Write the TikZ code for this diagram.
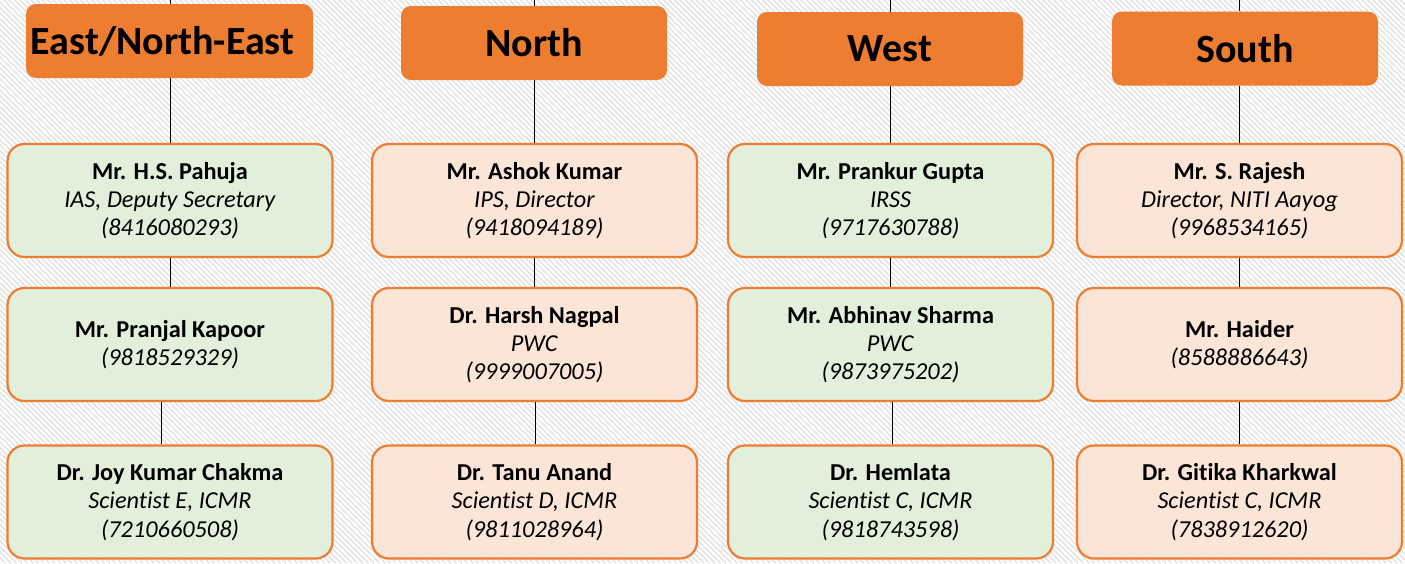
\documentclass[tikz,border=0pt]{standalone}
\usepackage{fontspec}
\setmainfont[Ligatures=NoCommon]{Carlito}
\definecolor{hdr}{HTML}{ED7D31}
\definecolor{gfill}{HTML}{E2EFDA}
\definecolor{pfill}{HTML}{FBE5D6}
\definecolor{hatchc}{HTML}{DFDFDF}
\tikzset{
  head/.style={fill=hdr, rounded corners=10pt, minimum height=74pt, inner sep=0pt,
    font=\fontsize{40}{46}\selectfont\bfseries},
  person/.style={draw=hdr, line width=2.2pt, rounded corners=17pt, minimum width=325pt,
    minimum height=113pt, align=center, inner sep=0pt, font=\fontsize{24.3}{28.2}\selectfont},
  gbox/.style={person, fill=gfill},
  pbox/.style={person, fill=pfill},
  link/.style={draw=black, line width=0.8pt},
  hatch/.style={draw=hatchc, line width=1.1pt}
}
\begin{document}
\begin{tikzpicture}[x=1pt,y=-1pt]
\useasboundingbox (0,0) rectangle (1405,563);
\fill[white] (0,0) rectangle (1405,563);
\begin{scope}
\clip (0,0) rectangle (1405,563);
\foreach \i in {0,...,360} \draw[hatch] ({\i*5.5-563},0) -- ({\i*5.5},563);
\end{scope}

% headers
\node[head, minimum width=287pt] (h1) at (169.5,41) {East/North-East\hspace*{14pt}\mbox{}};
\node[head, minimum width=266pt] (h2) at (534,43) {North};
\node[head, minimum width=266pt] (h3) at (890,49) {West};
\node[head, minimum width=266pt] (h4) at (1245,48.5) {South};

% column 1
\node[gbox] (p11) at (170,200.5) {\textbf{Mr. H.S. Pahuja}\\\textit{IAS, Deputy Secretary}\\\textit{(8416080293)}};
\node[gbox] (p12) at (170,344.5) {\textbf{Mr. Pranjal Kapoor}\\\textit{(9818529329)}};
\node[gbox] (p13) at (170,502) {\textbf{Dr. Joy Kumar Chakma}\\\textit{Scientist E, ICMR}\\\textit{(7210660508)}};
% column 2
\node[pbox] (p21) at (534.5,200.5) {\textbf{Mr. Ashok Kumar}\\\textit{IPS, Director}\\\textit{(9418094189)}};
\node[pbox] (p22) at (534.5,344.5) {\textbf{Dr. Harsh Nagpal}\\\textit{PWC}\\\textit{(9999007005)}};
\node[pbox] (p23) at (534.5,502) {\textbf{Dr. Tanu Anand}\\\textit{Scientist D, ICMR}\\\textit{(9811028964)}};
% column 3
\node[gbox] (p31) at (890.5,200.5) {\textbf{Mr. Prankur Gupta}\\\textit{IRSS}\\\textit{(9717630788)}};
\node[gbox] (p32) at (890.5,344.5) {\textbf{Mr. Abhinav Sharma}\\\textit{PWC}\\\textit{(9873975202)}};
\node[gbox] (p33) at (890.5,502) {\textbf{Dr. Hemlata}\\\textit{Scientist C, ICMR}\\\textit{(9818743598)}};
% column 4
\node[pbox] (p41) at (1239.5,200.5) {\textbf{Mr. S. Rajesh}\\\textit{Director, NITI Aayog}\\\textit{(9968534165)}};
\node[pbox] (p42) at (1239.5,344.5) {\textbf{Mr. Haider}\\\textit{(8588886643)}};
\node[pbox] (p43) at (1239.5,502) {\textbf{Dr. Gitika Kharkwal}\\\textit{Scientist C, ICMR}\\\textit{(7838912620)}};

% top stubs
\coordinate (t1) at (170,0);
\coordinate (t2) at (534.5,0);
\coordinate (t3) at (890.5,0);
\coordinate (t4) at (1239.5,0);

\draw[link] (t1) -- (t1 |- h1.north);
\draw[link] (t2) -- (t2 |- h2.north);
\draw[link] (t3) -- (t3 |- h3.north);
\draw[link] (t4) -- (t4 |- h4.north);
\draw[link] (p11.north |- h1.south) -- (p11.north);
\draw[link] (p21.north |- h2.south) -- (p21.north);
\draw[link] (p31.north |- h3.south) -- (p31.north);
\draw[link] (p41.north |- h4.south) -- (p41.north);
\draw[link] (p11.south) -- (p12.north);
\draw[link] (p21.south) -- (p22.north);
\draw[link] (p31.south) -- (p32.north);
\draw[link] (p41.south) -- (p42.north);
\draw[link] ([xshift=-9pt]p12.south) -- ([xshift=-9pt]p13.north);
\draw[link] ([xshift=0.5pt]p22.south) -- ([xshift=0.5pt]p23.north);
\draw[link] ([xshift=1.5pt]p32.south) -- ([xshift=1.5pt]p33.north);
\draw[link] (p42.south) -- (p43.north);
\end{tikzpicture}
\end{document}
